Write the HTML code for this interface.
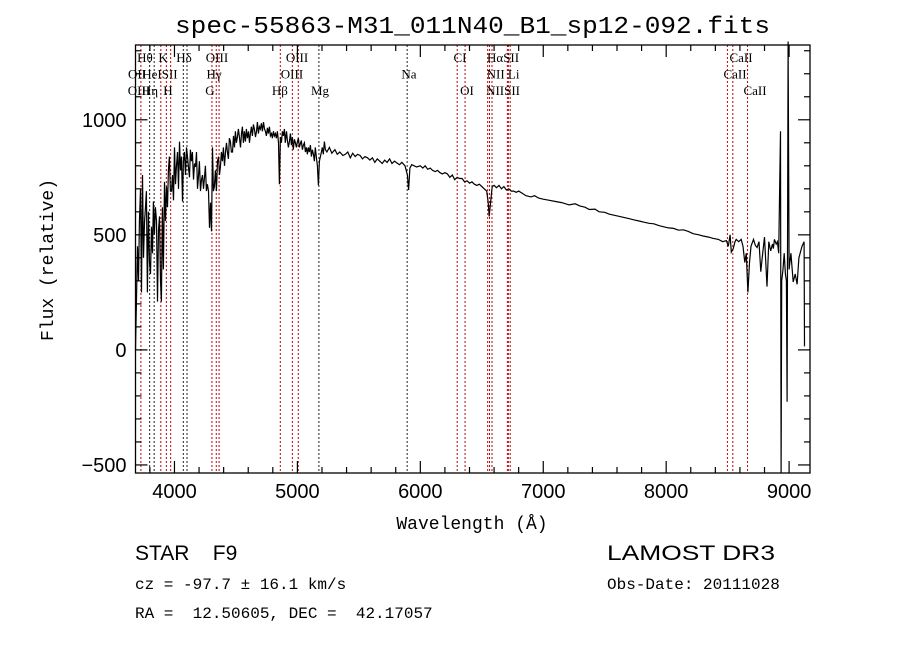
<!DOCTYPE html>
<html><head><meta charset="utf-8"><style>
html,body{margin:0;padding:0;background:#fff;}
svg{display:block;}
text{fill:#000;}
</style></head><body>
<svg id="chart" width="900" height="649" viewBox="0 0 900 649" xmlns="http://www.w3.org/2000/svg">
<rect x="0" y="0" width="900" height="649" fill="#fff"/>
<text x="175" y="33" font-family="Liberation Mono, monospace" font-size="24" textLength="595" lengthAdjust="spacingAndGlyphs">spec-55863-M31_011N40_B1_sp12-092.fits</text>
<g id="lines"></g>
<g id="linelabels" font-family="Liberation Serif, serif" font-size="13"></g>
<path id="spec" fill="none" stroke="#000" stroke-width="1.2"/>
<g id="axes"></g>
<text x="472" y="529" text-anchor="middle" font-family="Liberation Mono, monospace" font-size="18">Wavelength (Å)</text>
<text transform="translate(53,260) rotate(-90)" text-anchor="middle" font-family="Liberation Mono, monospace" font-size="18">Flux (relative)</text>
<text x="135" y="560" font-family="Liberation Sans, sans-serif" font-size="21" xml:space="preserve">STAR    F9</text>
<text x="607" y="560" font-family="Liberation Sans, sans-serif" font-size="21" textLength="168" lengthAdjust="spacingAndGlyphs">LAMOST DR3</text>
<text x="135" y="589" font-family="Liberation Mono, monospace" font-size="16" xml:space="preserve">cz = -97.7 ± 16.1 km/s</text>
<text x="607" y="589" font-family="Liberation Mono, monospace" font-size="16">Obs-Date: 20111028</text>
<text x="135" y="618" font-family="Liberation Mono, monospace" font-size="16" xml:space="preserve">RA =  12.50605, DEC =  42.17057</text>
</svg>
<script>
const wave = [
3683,3690,3699,3707,3715,3724,3732,3740,3748,3756,
3764,3772,3780,3788,3797,3805,3813,3821,3829,3837,
3845,3854,3862,3870,3878,3886,3894,3902,3910,3919,
3927,3935,3943,3951,3959,3967,3976,3984,3992,4000,
4008,4016,4025,4033,4041,4049,4057,4065,4073,4081,
4090,4098,4106,4114,4122,4130,4138,4146,4155,4163,
4171,4179,4187,4195,4203,4212,4220,4228,4236,4244,
4252,4260,4268,4277,4285,4293,4301,4309,4317,4325,
4333,4341,4350,4358,4366,4374,4382,4390,4398,4407,
4415,4423,4431,4439,4447,4455,4463,4472,4480,4488,
4496,4504,4512,4520,4528,4537,4545,4553,4561,4569,
4577,4585,4593,4602,4610,4618,4626,4634,4642,4650,
4659,4667,4675,4683,4691,4699,4707,4715,4724,4732,
4740,4748,4756,4764,4772,4780,4789,4797,4805,4813,
4821,4829,4837,4846,4854,4862,4870,4878,4886,4894,
4902,4911,4919,4927,4935,4943,4951,4959,4967,4976,
4984,4992,5000,5008,5016,5024,5032,5041,5049,5057,
5065,5073,5081,5089,5097,5106,5114,5122,5130,5138,
5146,5154,5163,5171,5179,5187,5195,5203,5211,5220,
5228,5240,5260,5280,5305,5325,5345,5370,5390,5410,
5430,5450,5470,5490,5510,5530,5550,5570,5590,5610,
5630,5650,5670,5690,5710,5730,5750,5770,5790,5810,
5830,5850,5875,5895,5905,5915,5930,5950,5970,6000,
6020,6040,6060,6080,6100,6120,6140,6160,6180,6200,
6220,6240,6260,6280,6300,6320,6340,6360,6380,6400,
6420,6440,6460,6480,6500,6520,6540,6552,6560,6568,
6585,6600,6620,6640,6660,6680,6700,6720,6740,6760,
6780,6800,6830,6860,6900,6930,6960,7000,7050,7100,
7150,7210,7260,7300,7340,7375,7420,7455,7500,7535,
7580,7620,7660,7700,7740,7780,7820,7860,7900,7940,
7980,8020,8060,8100,8140,8180,8220,8265,8300,8345,
8380,8425,8460,8490,8505,8520,8530,8545,8560,8570,
8590,8610,8625,8640,8652,8665,8678,8690,8710,8725,
8740,8755,8770,8785,8800,8820,8835,8850,8865,8872,
8880,8895,8905,8915,8925,8930,8935,8940,8950,8960,
8970,8978,8984,8992,9000,9015,9033,9050,9065,9080,
9105,9122,9125];
const flux = [
0,200,450,300,555,700,250,760,400,555,
620,690,250,600,380,330,535,420,645,500,
620,560,210,520,580,300,210,620,350,730,
560,710,620,780,840,690,690,760,650,880,
720,795,860,700,905,780,840,645,820,860,
760,880,840,790,750,870,820,860,740,810,
795,860,700,750,820,690,740,760,700,750,
800,690,720,690,530,640,515,880,690,710,
780,690,820,840,760,795,860,820,880,800,
860,900,860,830,920,905,860,860,930,880,
950,900,925,960,925,880,940,970,900,950,
905,960,920,950,900,940,970,930,980,960,
925,950,990,940,970,960,985,950,990,960,
950,930,965,940,970,930,940,920,950,930,
940,920,950,900,720,925,900,950,930,960,
900,950,910,880,905,940,890,925,870,915,
900,880,905,920,880,895,910,870,890,900,
860,880,850,880,860,890,840,870,850,820,
880,840,800,715,820,840,860,880,850,905,
870,860,880,855,870,850,860,845,850,860,
835,855,840,850,845,830,840,835,825,835,
815,830,820,810,825,815,830,810,820,812,
805,815,800,760,695,790,805,800,795,800,
790,800,785,790,780,775,780,770,765,770,
765,750,760,740,750,745,745,730,735,725,
730,720,715,720,710,700,690,640,580,620,
710,715,705,715,700,710,695,700,690,690,
685,690,680,670,665,670,660,655,650,645,
640,630,635,625,620,610,612,600,598,590,
585,580,575,570,565,560,555,550,548,540,
535,530,528,520,522,515,505,500,495,490,
485,480,470,475,450,500,425,440,470,480,
470,480,450,380,420,250,380,450,480,455,
445,470,340,420,490,275,470,430,460,440,
480,460,470,420,775,950,-540,300,350,420,
330,300,-225,1340,350,420,295,330,285,400,
450,470,15];
const lineWave = [3727,3798,3835,3889,3934,3969,4072,4102,4305,4340,4363,4861,4959,5007,5175,5893,6300,6364,6548,6563,6583,6708,6716,6731,8498,8542,8662];
const lineColor = ['r','k','k','r','r','r','k','k','r','r','r','r','r','r','k','k','r','r','r','r','r','r','r','r','r','r','r'];
const labelText = ['Hθ','K','Hδ','OIII','OIII','CI','HαSII','CaII','OII','HeISII','Hγ','OIII','Na','NII Li','CaII','OIII','Hη','H','G','Hβ','Mg','OI','NIISII','CaII'];
const labelWave = [3760,3907,4078,4346,4997,6323,6673,8609,3695,3882,4322,4956,5908,6673,8560,3711,3801,3947,4289,4858,5184,6380,6673,8723];
const labelRow = [0,0,0,0,0,0,0,0,1,1,1,1,1,1,1,2,2,2,2,2,2,2,2,2];
const xTicks = [4000,5000,6000,7000,8000,9000];
const yTicks = [-500,0,500,1000];

const L=135.5,R=810,T=45,B=473;
const X0=3683,X1=9170,Y0=-535,Y1=1325;
function xs(w){return L+(w-X0)/(X1-X0)*(R-L);}
function ys(f){return B-(f-Y0)/(Y1-Y0)*(B-T);}
const NS='http://www.w3.org/2000/svg';
function mk(tag,parent){const e=document.createElementNS(NS,tag);parent.appendChild(e);return e;}

const lg=document.getElementById('lines');
lineWave.forEach((w,i)=>{
  const l=mk('line',lg);
  
  
  const x=xs(w);
  l.setAttribute('x1',x);l.setAttribute('x2',x);l.setAttribute('y1',T);l.setAttribute('y2',B);
  l.setAttribute('stroke',lineColor[i]==='r'?'#c00000':'#222');
  l.setAttribute('stroke-width','1');l.setAttribute('stroke-dasharray','2,2');
});
const tg=document.getElementById('linelabels');
labelText.forEach((t,i)=>{
  const e=mk('text',tg);
  
  
  e.setAttribute('x',xs(labelWave[i]));e.setAttribute('y',62+labelRow[i]*16.5);
  e.setAttribute('text-anchor','middle');
  e.textContent=t;
});
let d='';
const n=Math.min(wave.length,flux.length);
for(let i=0;i<n;i++){let f=Math.max(Y0,Math.min(Y1+100,flux[i]));d+=(i?'L':'M')+xs(wave[i]).toFixed(1)+','+ys(f).toFixed(1);}
document.getElementById('spec').setAttribute('d',d);

const ag=document.getElementById('axes');
const box=mk('rect',ag);


box.setAttribute('x',L);box.setAttribute('y',T);box.setAttribute('width',R-L);box.setAttribute('height',B-T);
box.setAttribute('fill','none');box.setAttribute('stroke','#000');box.setAttribute('stroke-width','1.3');
function tick(x1,y1,x2,y2){const t=mk('line',ag);t.setAttribute('x1',x1);t.setAttribute('y1',y1);t.setAttribute('x2',x2);t.setAttribute('y2',y2);t.setAttribute('stroke','#000');t.setAttribute('stroke-width','1.2');}
for(let w=3800;w<=9100;w+=200){const x=xs(w);const maj=w%1000===0;const len=maj?12:6;tick(x,B,x,B-len);tick(x,T,x,T+len);}
for(let f=-500;f<=1300;f+=100){const y=ys(f);const maj=f%500===0;const len=maj?12:6;tick(L,y,L+len,y);tick(R,y,R-len,y);}
xTicks.forEach(v=>{const e=mk('text',ag);
  
  
  e.setAttribute('x',xs(v));e.setAttribute('y',B+25);e.setAttribute('text-anchor','middle');e.setAttribute('font-family','Liberation Sans, sans-serif');e.setAttribute('font-size','20');e.textContent=v;});
yTicks.forEach(v=>{const e=mk('text',ag);
  
  
  e.setAttribute('x',L-9);e.setAttribute('y',ys(v)+7);e.setAttribute('text-anchor','end');e.setAttribute('font-family','Liberation Sans, sans-serif');e.setAttribute('font-size','20');e.textContent=v===-500?'−500':v;});
</script>
</body></html>
